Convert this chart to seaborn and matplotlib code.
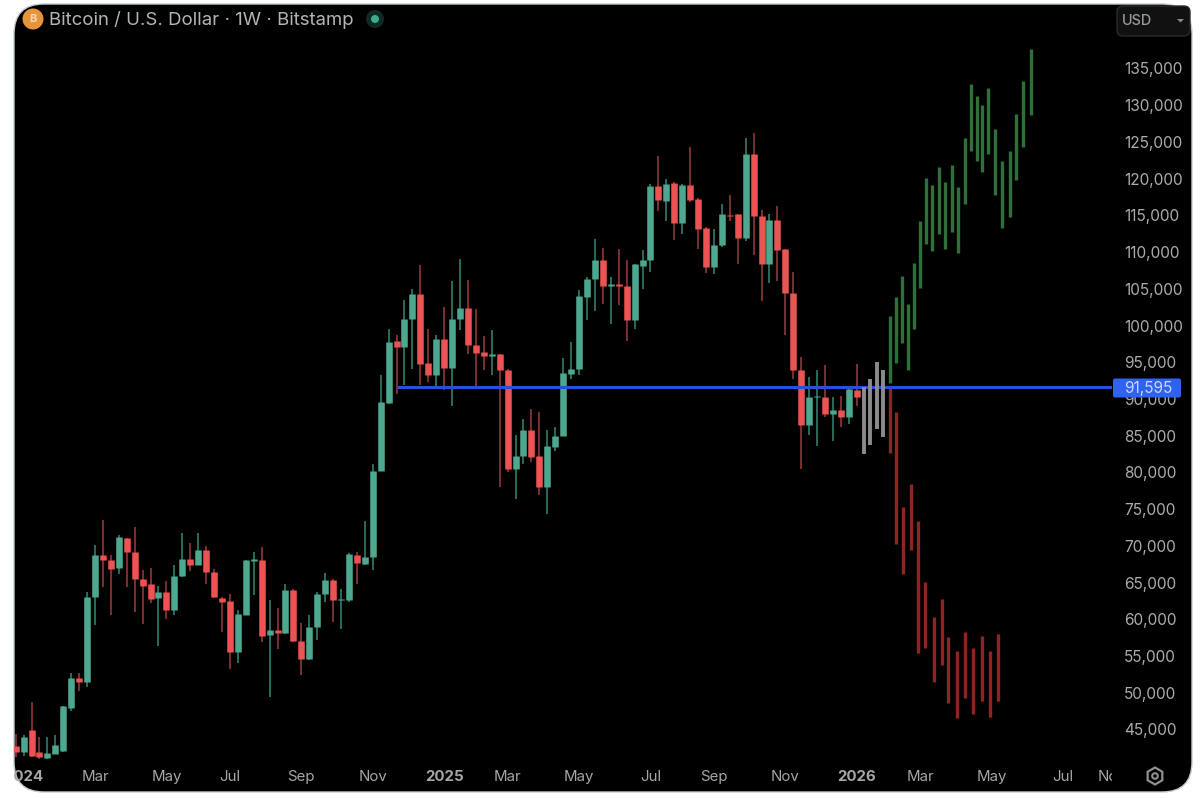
import numpy as np
import pandas as pd
import matplotlib
matplotlib.use('Agg')
import matplotlib.pyplot as plt
import seaborn as sns
from matplotlib.patches import Circle, FancyBboxPatch, RegularPolygon, Rectangle

# weekly candles, week 0 is the first one visible at the left edge
opens = [42800, 41900, 44860, 41910, 41140, 41680, 42130, 47940, 51980, 51440,
         63010, 68690, 68010, 67010, 71090, 69140, 65510, 64740, 62920, 63690,
         61200, 65960, 68230, 67460, 69500, 66420, 62920, 62470, 55520, 60610,
         67870, 68010, 57890, 58480, 58110, 64010, 57020, 54530, 58930, 63380,
         65370, 62560, 62560, 68820, 67550, 68460, 80170, 89430, 97830, 97060,
         100910, 104320, 94880, 93330, 98100, 94240, 100910, 102370, 97370, 96380,
         95830, 96060, 93970, 80490, 82300, 85840, 82170, 78010, 83440, 84940,
         93420, 94100, 103860, 106270, 108950, 105450, 105680, 105450, 100690, 108090,
         108950, 118980, 116940, 119430, 113940, 119160, 117250, 113260, 107950, 110900,
         115080, 115120, 111940, 123380, 114890, 108400, 114390, 110450, 104450, 93880,
         86520, 90250, 90250, 87890, 88430, 87610, 91250]
highs = [44400, 44180, 48720, 43950, 43950, 44180, 48260, 52670, 52670, 63690,
         70050, 73540, 68690, 71410, 71090, 72550, 66650, 67010, 64470, 65280,
         67460, 71730, 70410, 71770, 69960, 66870, 63010, 63470, 61200, 68100,
         69140, 69910, 62560, 61560, 64830, 64150, 59470, 60520, 63690, 66280,
         65510, 64150, 69010, 69140, 73360, 81170, 93290, 99550, 98740, 103410,
         105000, 108180, 99550, 98740, 102590, 106040, 109080, 106220, 102280, 98640,
         99330, 96150, 94100, 85030, 87300, 88570, 88200, 85800, 86160, 95600,
         97740, 104770, 106590, 111810, 110580, 106590, 110450, 108860, 108400, 110310,
         119300, 123020, 119980, 119520, 119300, 124290, 117340, 113400, 113170, 116570,
         117800, 115210, 125560, 126200, 115760, 115210, 116210, 110450, 107270, 95690,
         92970, 93970, 94560, 90250, 90470, 91610, 94700]
lows = [41230, 41450, 41230, 41000, 41000, 41590, 41910, 47580, 50300, 50760,
        59160, 64380, 60520, 66190, 64380, 60970, 59380, 62200, 56340, 60060,
        60650, 65740, 66550, 67330, 64740, 62920, 58250, 53260, 54030, 60520,
        63240, 56890, 49400, 55980, 57930, 56890, 52350, 54390, 57200, 62330,
        59610, 58700, 62330, 64830, 67460, 66740, 80170, 89340, 90700, 91970,
        94100, 91970, 92290, 91380, 91160, 89110, 99330, 96060, 91610, 93880,
        93200, 78010, 80030, 76400, 81080, 81400, 76860, 74360, 82980, 84940,
        92740, 93200, 100690, 101960, 102960, 100230, 102730, 97960, 99550, 104910,
        107270, 115570, 114300, 111670, 112400, 116800, 110450, 107130, 107040, 110670,
        114300, 108400, 111490, 109540, 103320, 105820, 106130, 98730, 92740, 80400,
        85030, 83530, 87520, 84260, 86250, 86620, 88980]
closes = [41900, 43950, 41450, 41230, 41770, 42820, 48170, 52030, 51440, 63010,
          68820, 68010, 66870, 71180, 69140, 65510, 64600, 62790, 63690, 61200,
          65960, 68230, 67460, 69460, 66420, 63010, 62330, 55520, 60740, 68010,
          68230, 57790, 58480, 58110, 64010, 57020, 54620, 58930, 63470, 65370,
          62650, 62790, 68910, 67640, 68460, 80170, 89570, 97740, 97060, 100910,
          104320, 94790, 93330, 98100, 94240, 100910, 102370, 97370, 96240, 95830,
          96060, 93970, 80490, 82300, 85840, 82080, 78010, 83530, 84940, 93510,
          94100, 103960, 106360, 108950, 105450, 105680, 105360, 100690, 108310, 108950,
          118980, 117030, 119300, 113940, 119160, 117160, 113170, 107950, 110990, 115210,
          114850, 111940, 123380, 114850, 108400, 114390, 110310, 104410, 93880, 86520,
          90250, 90470, 87890, 88430, 87610, 91380, 90250]

# hand drawn projection bars after the last candle
grey_weeks = [106.9, 107.7, 108.5, 109.3]
grey_highs = [91610, 92740, 95010, 93880]
grey_lows = [82530, 83670, 85930, 84800]

up_weeks = [110.2, 110.9, 111.7, 112.5, 113.2, 114.0, 114.7, 115.5, 116.4, 117.1, 118.0, 118.8,
            119.6, 120.4, 121.1, 121.8, 122.6, 123.4, 124.3, 125.3, 126.1, 127.0, 127.9]
up_highs = [101230, 103860, 106680, 102950, 108540, 114170, 120070, 119070, 121560, 119520, 121790, 118930,
            125560, 132820, 131320, 130050, 132370, 126780, 122340, 123830, 128830, 133280, 137680]
up_lows = [92150, 94920, 97640, 93880, 99460, 105130, 111120, 110080, 112490, 110440, 112800, 109900,
           116570, 123830, 122340, 120970, 123380, 117710, 113300, 114760, 119750, 124290, 128600]

down_weeks = [110.2, 111.0, 111.8, 112.8, 113.7, 114.6, 115.7, 116.7, 117.5, 118.6, 119.7, 120.7,
              121.8, 122.8, 123.8]
down_highs = [91610, 88290, 75270, 78440, 73450, 65060, 60380, 62790, 57570, 55660, 58250, 56110,
              57790, 55750, 57930]
down_lows = [82620, 70270, 66190, 69500, 55430, 56070, 51440, 53800, 48580, 46580, 49300, 47130,
             48850, 46760, 48940]

last_price = 91595
level_start = 48.1

price_ticks = list(range(45000, 140000, 5000))
week_ticks = [1, 10, 19, 27, 36, 45, 54, 62, 71, 80, 88, 97, 106, 114, 123, 132, 138.15]
week_labels = ['2024', 'Mar', 'May', 'Jul', 'Sep', 'Nov', '2025', 'Mar', 'May', 'Jul', 'Sep', 'Nov',
               '2026', 'Mar', 'May', 'Jul', 'Nov']

GREEN = '#4da88f'
GREEN_WICK = '#2b6a5b'
RED = '#ec5353'
RED_WICK = '#7d3030'
FONT = ['Inter', 'DejaVu Sans']

sns.set_theme(style='dark', rc={'figure.facecolor': 'white', 'axes.facecolor': 'none'})
plt.rcParams['font.family'] = FONT


def sticks(ax, weeks, tops, bottoms, color, width, zorder=2):
    n = len(weeks)
    df = pd.DataFrame({'week': list(weeks) * 2, 'price': list(tops) + list(bottoms),
                       'bar': list(range(n)) * 2})
    sns.lineplot(data=df, x='week', y='price', units='bar', estimator=None, color=color,
                 linewidth=width, solid_capstyle='butt', legend=False, ax=ax, zorder=zorder)


fig = plt.figure(figsize=(12, 7.98), dpi=100)
W, H = 1200, 798

# pixel canvas behind the chart, holds the black rounded panel
back = fig.add_axes([0, 0, 1, 1], zorder=0)
back.set_xlim(0, W)
back.set_ylim(H, 0)
back.axis('off')
r = 30
panel = FancyBboxPatch((14 + r, 4 + r), 1178 - 2 * r, 788 - 2 * r, boxstyle=f'round,pad={r},rounding_size={r}',
                       facecolor='black', edgecolor='#c4ccd0', linewidth=1.0)
back.add_patch(panel)

ax = fig.add_axes([14 / W, 1 - 765 / H, (1112 - 14) / W, (765 - 4) / H], zorder=1)

weeks = np.arange(len(opens))
o, h, l, c = map(np.array, (opens, highs, lows, closes))
up = c >= o

sticks(ax, weeks[up], h[up], l[up], GREEN_WICK, 1.4)
sticks(ax, weeks[~up], h[~up], l[~up], RED_WICK, 1.4)
sticks(ax, weeks[up], c[up], o[up], GREEN, 4.7, zorder=3)
sticks(ax, weeks[~up], o[~up], c[~up], RED, 4.7, zorder=3)

sticks(ax, up_weeks, up_highs, up_lows, '#2f6f3a', 2.4)
sticks(ax, down_weeks, down_highs, down_lows, '#8c2622', 2.4)

ax.hlines(last_price, level_start, 138.2, color='#2b50d8', linewidth=2.2, zorder=5)
sticks(ax, grey_weeks, grey_highs, grey_lows, '#8b8b8b', 2.8, zorder=6)

ax.set_xlim(-0.21, 138.17)
ax.set_ylim(40160, 143780)
ax.set_xlabel('')
ax.set_ylabel('')
for s in ax.spines.values():
    s.set_visible(False)
ax.grid(False)
ax.yaxis.tick_right()
ax.set_yticks(price_ticks)
ax.set_yticklabels([f'{p:,}' for p in price_ticks])
ax.set_xticks(week_ticks)
ax.set_xticklabels(week_labels)
ax.tick_params(axis='y', length=0, pad=8.5, labelsize=11.1, labelcolor='#ababab')
ax.tick_params(axis='x', length=0, pad=3.5, labelsize=10.8, labelcolor='#a6a6a6')

# everything stays inside the rounded panel, labels get cut at the panel edge and price scale
for art in ax.get_lines() + ax.collections:
    art.set_clip_path(panel)
scale_edge = Rectangle((14, 0), 1098, H, transform=back.transData)
for lab in ax.get_xticklabels():
    lab.set_clip_on(True)
    lab.set_clip_path(scale_edge)
    if lab.get_text().isdigit():
        lab.set_fontweight('bold')

# header, price tag and settings icon on top
front = fig.add_axes([0, 0, 1, 1], zorder=2, facecolor='none')
front.set_xlim(0, W)
front.set_ylim(H, 0)
front.axis('off')

front.add_patch(Circle((33, 19), 10.5, facecolor='#e8953a', edgecolor='none'))
front.text(33, 19.5, 'B', color='#f6d9b4', fontsize=8, fontweight='bold', ha='center', va='center')
front.text(49, 20, 'Bitcoin / U.S. Dollar · 1W · Bitstamp', color='#b4b4b4', fontsize=13.4, va='center')
front.add_patch(Circle((375, 19), 9, facecolor='#0e2a24', edgecolor='none'))
front.add_patch(Circle((375, 19), 4, facecolor='#3fa98c', edgecolor='none'))

front.add_patch(FancyBboxPatch((1121, 10), 65, 22, boxstyle='round,pad=4,rounding_size=6',
                               facecolor='#111111', edgecolor='#2a2a2a', linewidth=1))
front.text(1122, 21, 'USD', color='#9a9a9a', fontsize=10.4, fontweight='medium', va='center')
front.fill([1177, 1184, 1180.5], [19, 19, 22.5], color='#8a8a8a', linewidth=0)

front.add_patch(FancyBboxPatch((1115, 380.5), 64, 15, boxstyle='round,pad=2,rounding_size=2',
                               facecolor='#2f62ee', edgecolor='none'))
front.text(1124, 388, f'{last_price:,}', color='#c9d8fb', fontsize=11.1, va='center')

front.add_patch(RegularPolygon((1155, 776), 6, radius=8.5, facecolor='none', edgecolor='#8f8f8f', linewidth=1.6))
front.add_patch(Circle((1155, 776), 2.8, facecolor='none', edgecolor='#8f8f8f', linewidth=1.5))

fig.savefig('out.png', dpi=100, facecolor='white')
